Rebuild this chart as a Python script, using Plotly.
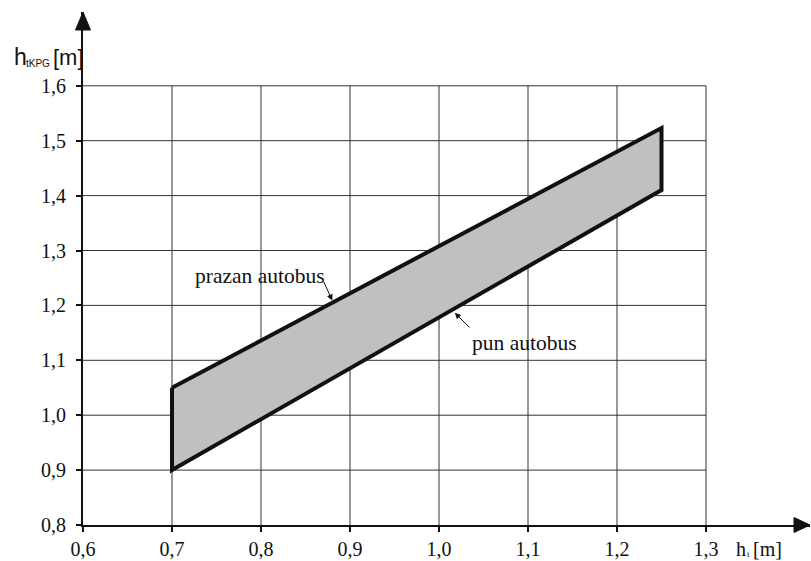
import plotly.graph_objects as go
import numpy as np

# ---- data ----
x_ticks = [0.6, 0.7, 0.8, 0.9, 1.0, 1.1, 1.2, 1.3]
x_tick_labels = ["0,6", "0,7", "0,8", "0,9", "1,0", "1,1", "1,2", "1,3"]
y_ticks = [0.8, 0.9, 1.0, 1.1, 1.2, 1.3, 1.4, 1.5, 1.6]
y_tick_labels = ["0,8", "0,9", "1,0", "1,1", "1,2", "1,3", "1,4", "1,5", "1,6"]

h_t = [0.70, 1.25]
h_prazan = [1.05, 1.523]   # prazan autobus (upper line)
h_pun = [0.90, 1.41]       # pun autobus (lower line)

# ---- layout geometry ----
W, H = 811, 561
L, R, T, B = 83, 1, 12, 36
pw, ph = W - L - R, H - T - B
kx = 890.0   # px per unit
ky = 549.0
xr = [0.6, 0.6 + pw / kx]
yr = [0.8, 0.8 + ph / ky]

def px(xp):
    return (xp - L) / pw

def py(yp):
    return (H - B - yp) / ph

fig = go.Figure()

poly_x = list(h_t) + list(h_t[::-1]) + [h_t[0]]
poly_y = list(h_prazan) + list(h_pun[::-1]) + [h_prazan[0]]
fig.add_trace(go.Scatter(
    x=poly_x, y=poly_y, mode="lines", fill="toself",
    fillcolor="#c0c0c0", line=dict(color="#111111", width=4),
    hoverinfo="skip", showlegend=False))

shapes = []
grid_col = "#333333"
for xv in x_ticks[1:]:
    shapes.append(dict(type="line", xref="x", yref="y", x0=xv, x1=xv,
                       y0=y_ticks[0], y1=y_ticks[-1],
                       line=dict(color=grid_col, width=1), layer="below"))
for yv in y_ticks[1:]:
    shapes.append(dict(type="line", xref="x", yref="y", x0=x_ticks[0], x1=x_ticks[-1],
                       y0=yv, y1=yv,
                       line=dict(color=grid_col, width=1), layer="below"))

# arrowheads of the axes (paper coordinates, not clipped)
shapes.append(dict(type="path", xref="paper", yref="paper",
                   path=f"M {px(83-7.5)} {py(30)} L {px(83)} {py(12)} L {px(83+7.5)} {py(30)} Z",
                   fillcolor="#111111", line=dict(color="#111111", width=1)))
shapes.append(dict(type="path", xref="paper", yref="paper",
                   path=f"M {px(794)} {py(525-7.5)} L {px(810)} {py(525)} L {px(794)} {py(525+7.5)} Z",
                   fillcolor="#111111", line=dict(color="#111111", width=1)))

serif = "Liberation Serif"
sans = "Liberation Sans"

annotations = []
# curve labels
xa = 0.881
ya = float(np.interp(xa, h_t, h_prazan))
annotations.append(dict(x=xa, y=ya, xref="x", yref="y", text="", showarrow=True,
                        ax=-10, ay=-22, arrowhead=2, arrowsize=1.2, arrowwidth=1,
                        arrowcolor="#111111", standoff=2))
annotations.append(dict(x=px(260), y=py(276), xref="paper", yref="paper",
                        text="prazan autobus", showarrow=False,
                        xanchor="center", yanchor="middle",
                        font=dict(family=serif, size=21.5, color="#111111")))
xb = 1.0146
yb = float(np.interp(xb, h_t, h_pun))
annotations.append(dict(x=xb, y=yb, xref="x", yref="y", text="", showarrow=True,
                        ax=19, ay=19, arrowhead=2, arrowsize=1.2, arrowwidth=1,
                        arrowcolor="#111111", standoff=4))
annotations.append(dict(x=px(470), y=py(343), xref="paper", yref="paper",
                        text="pun autobus", showarrow=False, xanchor="left",
                        yanchor="middle",
                        font=dict(family=serif, size=21.5, color="#111111")))

# axis titles
annotations.append(dict(x=px(12), y=py(57), xref="paper", yref="paper", text="h",
                        showarrow=False, xanchor="left", yanchor="middle",
                        font=dict(family=sans, size=23, color="#111111")))
annotations.append(dict(x=px(23.5), y=py(63), xref="paper", yref="paper", text="tKPG",
                        showarrow=False, xanchor="left", yanchor="middle",
                        font=dict(family=sans, size=10, color="#111111")))
annotations.append(dict(x=px(51), y=py(57), xref="paper", yref="paper", text="[m]",
                        showarrow=False, xanchor="left", yanchor="middle",
                        font=dict(family=sans, size=22, color="#111111")))

annotations.append(dict(x=px(734), y=py(549), xref="paper", yref="paper", text="h",
                        showarrow=False, xanchor="left", yanchor="middle",
                        font=dict(family=serif, size=20, color="#111111")))
annotations.append(dict(x=px(745), y=py(554), xref="paper", yref="paper", text="t",
                        showarrow=False, xanchor="left", yanchor="middle",
                        font=dict(family=serif, size=9, color="#111111")))
annotations.append(dict(x=px(751), y=py(549), xref="paper", yref="paper", text="[m]",
                        showarrow=False, xanchor="left", yanchor="middle",
                        font=dict(family=serif, size=20, color="#111111")))

fig.update_layout(
    width=W, height=H,
    margin=dict(l=L, r=R, t=T, b=B, pad=0, autoexpand=False),
    paper_bgcolor="white", plot_bgcolor="white",
    shapes=shapes, annotations=annotations,
    showlegend=False,
    xaxis=dict(range=xr, tickvals=x_ticks, ticktext=x_tick_labels,
               showgrid=False, zeroline=False, showline=True, automargin=False,
               linecolor="#111111", linewidth=2,
               ticks="outside", ticklen=5, tickwidth=2, tickcolor="#111111",
               tickfont=dict(family=serif, size=20, color="#111111"),
               ticklabelstandoff=0, fixedrange=True),
    yaxis=dict(range=yr, tickvals=y_ticks, ticktext=y_tick_labels,
               showgrid=False, zeroline=False, showline=True, automargin=False,
               linecolor="#111111", linewidth=2,
               ticks="outside", ticklen=5, tickwidth=2, tickcolor="#111111",
               tickfont=dict(family=serif, size=20, color="#111111"),
               ticklabelstandoff=6, fixedrange=True),
)

fig.write_html("out.html")
